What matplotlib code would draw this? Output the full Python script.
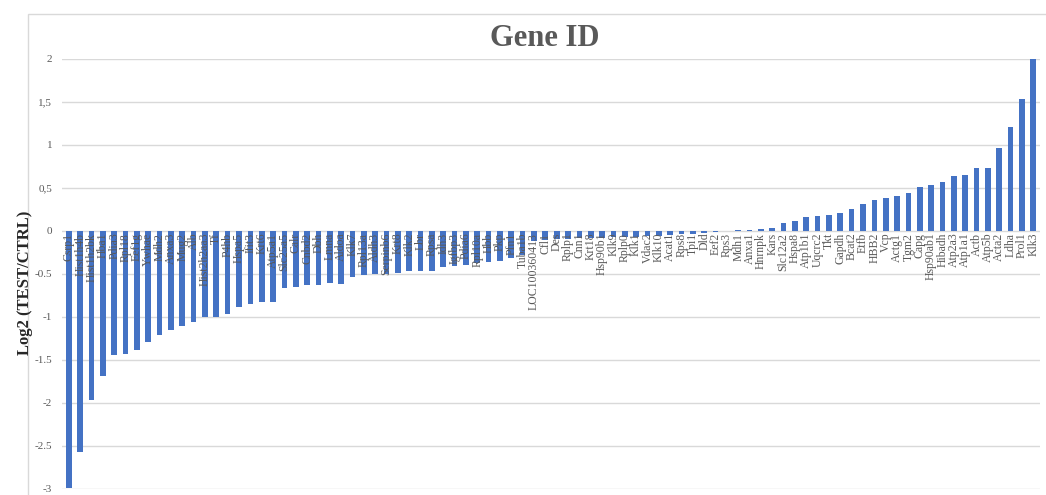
import numpy as np
import matplotlib
matplotlib.use("Agg")
import matplotlib.pyplot as plt
from matplotlib.patches import Rectangle

genes = [
    "Csrp1", "Hist1h4b", "Hist1h2bk", "Hba1", "Pdia3", "Rpl18", "Eef1g", "Ywhae",
    "Mdh2", "Anxa3", "Mug2", "Alb", "Hist2h2aa3", "Tf", "P4hb", "Hspa5",
    "Ifit3", "Krt6", "Atp5a1", "Slc25a5", "Calr", "Cnbd2", "Dbh", "Lmna",
    "Aldoa", "Klk7", "Rpl13a", "Aldh3", "Serpinb6", "Krt8", "Klk2", "Lbr",
    "Rpsa", "Idh3", "Igfbp3", "Pdia6", "Rpl10a", "Hbb", "Pkp", "Pfn1",
    "Tuba1b", "LOC100360413", "Cfl1", "Des", "Rplp1", "Cnn1", "Krt18", "Hsp90b1",
    "Klk9", "Rplp0", "Klk1", "Vdac2", "Klk10", "Acat1", "Rps8", "Tpi1",
    "Dld", "Eef2", "Rps3", "Mdh1", "Anxa1", "Hnrnpk", "Kars", "Slc12a2",
    "Hspa8", "Atp1b1", "Uqcrc2", "Tkt", "Gapdh", "Bcat2", "Etfb", "HBB2",
    "Vcp", "Actg1", "Tgm2", "Capg", "Hsp90ab1", "Hibadh", "Atp2a3", "Atp1a1",
    "Actb", "Atp5b", "Acta2", "Ldha", "Prol1", "Klk3",
]

log2_ratio = [
    -2.99, -2.57, -1.97, -1.69, -1.44, -1.43, -1.38, -1.29,
    -1.21, -1.15, -1.10, -1.06, -1.00, -1.00, -0.965, -0.88,
    -0.85, -0.83, -0.82, -0.66, -0.65, -0.63, -0.63, -0.60,
    -0.62, -0.535, -0.515, -0.50, -0.495, -0.49, -0.47, -0.46,
    -0.46, -0.42, -0.41, -0.39, -0.37, -0.365, -0.35, -0.31,
    -0.275, -0.12, -0.10, -0.095, -0.09, -0.085, -0.08, -0.08,
    -0.075, -0.07, -0.065, -0.06, -0.055, -0.05, -0.035, -0.03,
    -0.02, -0.01, -0.005, 0.01, 0.015, 0.02, 0.03, 0.09,
    0.115, 0.16, 0.17, 0.19, 0.21, 0.255, 0.31, 0.355,
    0.385, 0.41, 0.44, 0.51, 0.53, 0.57, 0.64, 0.655,
    0.73, 0.735, 0.97, 1.205, 1.53, 2.00,
]

yticks = [2, 1.5, 1, 0.5, 0, -0.5, -1, -1.5, -2, -2.5, -3]
ytick_labels = ["2", "1,5", "1", "0,5", "0", "-0.5", "-1", "-1.5", "-2", "-2.5", "-3"]

serif = ["Liberation Serif", "DejaVu Serif"]
grey = "#595959"

fig = plt.figure(figsize=(10.46, 4.95), dpi=100)
fig.patches.append(Rectangle((28 / 1046, -0.01), 1.0, 1 - 14 / 495 + 0.01,
                             transform=fig.transFigure, fill=False,
                             edgecolor="#d9d9d9", linewidth=1.0))

ax = fig.add_axes([62 / 1046, 1 - 489 / 495, (1040 - 62) / 1046, (489 - 59) / 495])
x = np.arange(len(genes))
ax.bar(x, log2_ratio, width=0.5, color="#4472c4", zorder=2)

ax.set_xlim(-0.6, len(genes) - 0.4)
ax.set_ylim(-3, 2)
ax.set_yticks(yticks)
ax.set_yticklabels(ytick_labels, fontfamily=serif, fontsize=8, color=grey)
ax.set_xticks([])
ax.tick_params(axis="y", length=0, pad=7)
ax.grid(axis="y", color="#d9d9d9", linewidth=1.0, zorder=0)
for s in ax.spines.values():
    s.set_visible(False)

# gene names hang just under the zero line, like the category axis in the original
for i, g in enumerate(genes):
    ax.text(i, -0.02, g, rotation=90, ha="center", va="top",
            fontsize=8.5, fontfamily=serif, color=grey, zorder=3)

fig.text(545 / 1046, 1 - 39 / 495, "Gene ID", ha="center", va="center",
         fontsize=22, fontweight="bold", fontfamily=serif, color=grey)
fig.text(25 / 1046, 1 - 283 / 495, "Log2 (TEST/CTRL)", rotation=90,
         ha="center", va="center", fontsize=12, fontweight="bold",
         fontfamily=serif, color="#262626")

fig.savefig("out.png", dpi=100)
